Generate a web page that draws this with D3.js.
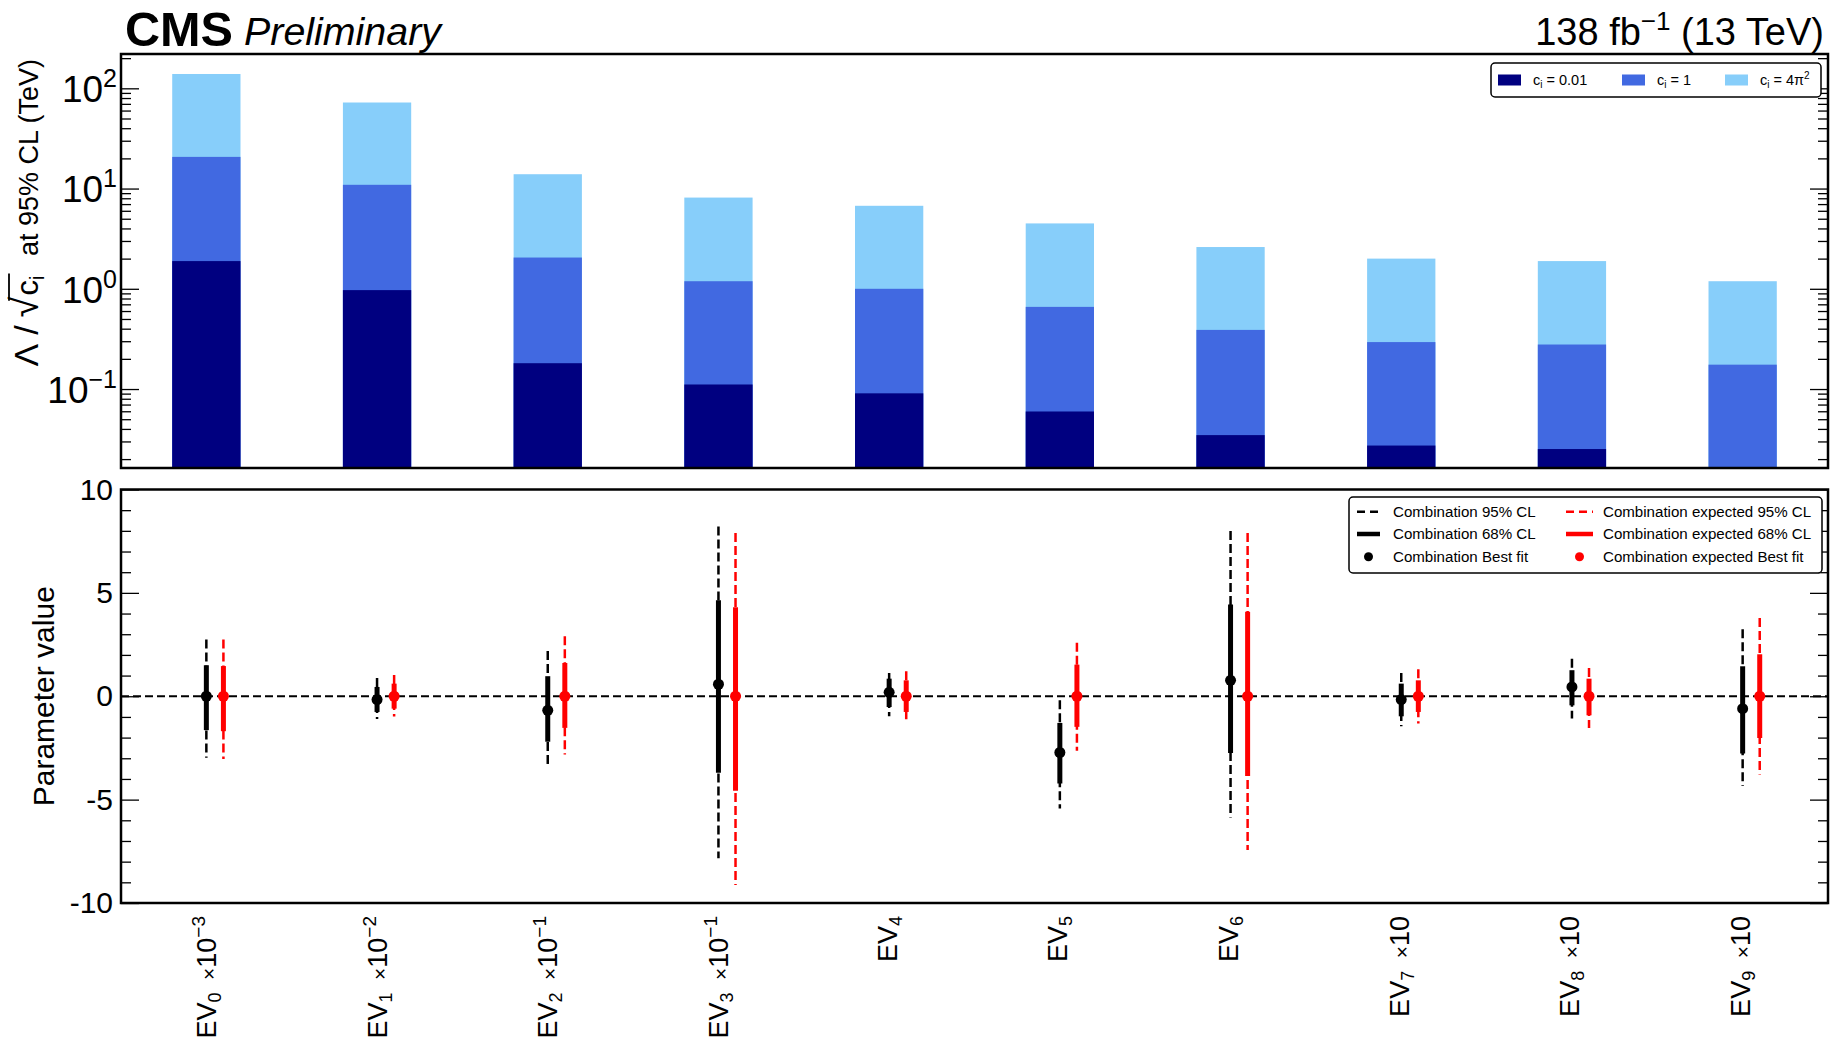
<!DOCTYPE html>
<html><head><meta charset="utf-8">
<script src="https://cdn.jsdelivr.net/npm/d3@7"></script>
<style>
body{margin:0;background:#fff}
text{font-family:"Liberation Sans",Arial,Helvetica,sans-serif;fill:#000}
</style>
</head><body>
<svg id="chart" width="1838" height="1062"></svg>
<script>
// ---------------- data ----------------
const categories = ["EV0","EV1","EV2","EV3","EV4","EV5","EV6","EV7","EV8","EV9"];
const labelIndex = ["0","1","2","3","4","5","6","7","8","9"];
const labelExp = [-3,-2,-1,-1,null,null,null,1,1,1];

// Lambda/sqrt(c_i) at 95% CL (TeV)
const limitC001 = [1.89, 0.97, 0.181, 0.111, 0.0906, 0.0597, 0.0347, 0.0273, 0.0252, 0.0159];
const limitC1   = [20.7, 10.9, 2.05, 1.19, 1.0, 0.66, 0.389, 0.294, 0.278, 0.175];
const limitC4pi2= [139, 72.2, 13.9, 8.13, 6.73, 4.49, 2.61, 2.0, 1.89, 1.19];

// parameter values (observed combination)
const obsBest = [0.0, -0.16, -0.68, 0.58, 0.19, -2.72, 0.77, -0.16, 0.45, -0.6];
const obs68Lo = [-1.64, -0.76, -2.2, -3.7, -0.52, -4.22, -2.74, -0.97, -0.44, -2.77];
const obs68Hi = [1.5, 0.45, 0.97, 4.64, 0.85, -1.29, 4.44, 0.61, 1.26, 1.45];
const obs95Lo = [-2.98, -1.1, -3.41, -7.84, -0.97, -5.43, -5.86, -1.45, -1.08, -4.34];
const obs95Hi = [2.74, 0.88, 2.19, 8.21, 1.13, -0.19, 7.99, 1.13, 1.81, 3.24];
// expected combination
const expBest = [0,0,0,0,0,0,0,0,0,0];
const exp68Lo = [-1.69, -0.6, -1.53, -4.57, -0.76, -1.48, -3.86, -0.76, -0.92, -2.02];
const exp68Hi = [1.46, 0.61, 1.61, 4.31, 0.77, 1.53, 4.09, 0.77, 0.85, 2.03];
const exp95Lo = [-3.03, -0.98, -2.82, -9.13, -1.19, -2.64, -7.44, -1.32, -1.53, -3.79];
const exp95Hi = [2.74, 1.03, 2.9, 7.89, 1.21, 2.59, 7.9, 1.31, 1.37, 3.79];

const topMajorTicks = [0.1, 1, 10, 100];
const topTickExp = ["−1","0","1","2"];
const bottomMajorTicks = [-10,-5,0,5,10];

// ---------------- layout ----------------
const svg = d3.select("#chart");
const L = 121, R = 1828;
const T1 = 54, B1 = 468;
const T2 = 489.5, B2 = 903;
const FONT = '"Liberation Sans",Arial,Helvetica,sans-serif';

const x = d3.scaleBand().domain(categories).range([L, R]).padding(0);
const cx = c => x(c) + x.bandwidth()/2;
const yTop = d3.scaleLog().domain([0.0163, 220]).range([B1, T1]);
const yBot = d3.scaleLinear().domain([-10, 10]).range([B2, T2]);

const colDark = "#000080", colMid = "#4169e1", colLight = "#87cefa";

// ---------------- header ----------------
svg.append("text").attr("x", 125).attr("y", 46).attr("font-size", 49).attr("font-weight", "bold")
  .attr("textLength", 108).attr("lengthAdjust", "spacingAndGlyphs").text("CMS");
svg.append("text").attr("x", 244).attr("y", 45).attr("font-size", 39).attr("font-style", "italic")
  .attr("textLength", 197).attr("lengthAdjust", "spacingAndGlyphs").text("Preliminary");
{
  const t = svg.append("text").attr("x", 1824).attr("y", 45).attr("font-size", 38).attr("text-anchor", "end");
  t.append("tspan").text("138 fb");
  t.append("tspan").attr("dy", -15).attr("font-size", 26).text("−1");
  t.append("tspan").attr("dy", 15).text(" (13 TeV)");
}

// ---------------- top panel ----------------
const clip = svg.append("defs").append("clipPath").attr("id", "clipTop");
clip.append("rect").attr("x", L).attr("y", T1).attr("width", R-L).attr("height", B1-T1);

const gBars = svg.append("g").attr("clip-path", "url(#clipTop)");
const barW = x.bandwidth()*0.4;
[[limitC4pi2, colLight], [limitC1, colMid], [limitC001, colDark]].forEach(([vals, col]) => {
  gBars.selectAll(null).data(categories).enter().append("rect")
    .attr("x", (c) => cx(c) - barW/2)
    .attr("width", barW)
    .attr("y", (c, i) => yTop(vals[i]))
    .attr("height", (c, i) => B1 - yTop(vals[i]))
    .attr("fill", col);
});

// top axes
const minorTop = [];
[0.01, 0.1, 1, 10, 100].forEach(d => { for (let k = 2; k <= 9; k++) { const v = k*d; if (v > 0.0163 && v < 220) minorTop.push(v); } });

function styleAxis(g) {
  g.select(".domain").remove();
  g.selectAll(".tick line").attr("stroke", "#000").attr("stroke-width", 1.3);
}
const axTopL = svg.append("g").attr("transform", `translate(${L},0)`)
  .call(d3.axisLeft(yTop).tickValues(topMajorTicks).tickSize(-18).tickPadding(7).tickFormat(() => "")).call(styleAxis);
svg.append("g").attr("transform", `translate(${L},0)`)
  .call(d3.axisLeft(yTop).tickValues(minorTop).tickSize(-10).tickFormat(() => "")).call(styleAxis);
svg.append("g").attr("transform", `translate(${R},0)`)
  .call(d3.axisRight(yTop).tickValues(topMajorTicks).tickSize(-18).tickFormat(() => "")).call(styleAxis);
svg.append("g").attr("transform", `translate(${R},0)`)
  .call(d3.axisRight(yTop).tickValues(minorTop).tickSize(-10).tickFormat(() => "")).call(styleAxis);

axTopL.selectAll(".tick").each(function(d, i) {
  const t = d3.select(this).select("text").attr("font-size", 37).attr("font-family", FONT)
    .attr("fill", "#000").attr("dy", "0.36em").attr("x", -4);
  t.text(null);
  t.append("tspan").text("10");
  t.append("tspan").attr("dy", -15).attr("font-size", 25).text(topTickExp[i]);
});

svg.append("rect").attr("x", L).attr("y", T1).attr("width", R-L).attr("height", B1-T1)
  .attr("fill", "none").attr("stroke", "#000").attr("stroke-width", 2.5);

// top y title
{
  const g = svg.append("g").attr("transform", `translate(38,59) rotate(-90)`);
  const t = g.append("text").attr("x", 0).attr("y", 0).attr("font-size", 27).attr("text-anchor", "end");
  t.append("tspan").attr("font-size", 34).text("Λ");
  t.append("tspan").attr("font-size", 34).attr("dx", 9).text("/");
  t.append("tspan").attr("font-size", 38).attr("dx", 8).text("√");
  t.append("tspan").attr("font-size", 31).attr("dx", 1).text("c");
  t.append("tspan").attr("dy", 6).attr("font-size", 20).text("i");
  t.append("tspan").attr("dy", -6).attr("dx", 12).text(" at 95% CL (TeV)");
  const n = t.node();
  const s0 = n.getStartPositionOfChar(2).x, s1 = n.getEndPositionOfChar(2).x;
  const e = n.getEndPositionOfChar(4).x + 2;
  g.append("line").attr("x1", s0 + (s1 - s0)*0.8).attr("x2", e).attr("y1", -29).attr("y2", -29)
    .attr("stroke", "#000").attr("stroke-width", 1.8);
}

// top legend
{
  const g = svg.append("g");
  g.append("rect").attr("x", 1491).attr("y", 63).attr("width", 330).attr("height", 34).attr("rx", 4)
    .attr("fill", "#fff").attr("stroke", "#000").attr("stroke-width", 1.5);
  const items = [[colDark, "0.01", 1498], [colMid, "1", 1622], [colLight, "4π", 1725]];
  items.forEach(([col, lab, xs], k) => {
    g.append("rect").attr("x", xs).attr("y", 74.5).attr("width", 23).attr("height", 11).attr("fill", col);
    const t = g.append("text").attr("x", xs + 35).attr("y", 85).attr("font-size", 14.5);
    t.append("tspan").text("c");
    t.append("tspan").attr("dy", 3).attr("font-size", 10).text("i");
    t.append("tspan").attr("dy", -3).text(" = " + lab);
    if (k === 2) t.append("tspan").attr("dy", -6).attr("font-size", 10).text("2");
  });
}

// ---------------- bottom panel ----------------
const minorBot = d3.range(-10, 11, 1).filter(v => v % 5 !== 0);
const axBotL = svg.append("g").attr("transform", `translate(${L},0)`)
  .call(d3.axisLeft(yBot).tickValues(bottomMajorTicks).tickSize(-18).tickPadding(8).tickFormat(d => d3.format("d")(d).replace("−","-"))).call(styleAxis);
axBotL.selectAll("text").attr("font-size", 30).attr("font-family", FONT).attr("fill", "#000").attr("x", -8);
svg.append("g").attr("transform", `translate(${L},0)`)
  .call(d3.axisLeft(yBot).tickValues(minorBot).tickSize(-10).tickFormat(() => "")).call(styleAxis);
svg.append("g").attr("transform", `translate(${R},0)`)
  .call(d3.axisRight(yBot).tickValues(bottomMajorTicks).tickSize(-18).tickFormat(() => "")).call(styleAxis);
svg.append("g").attr("transform", `translate(${R},0)`)
  .call(d3.axisRight(yBot).tickValues(minorBot).tickSize(-10).tickFormat(() => "")).call(styleAxis);

// zero line
svg.append("line").attr("x1", L).attr("x2", R).attr("y1", yBot(0)).attr("y2", yBot(0))
  .attr("stroke", "#000").attr("stroke-width", 2).attr("stroke-dasharray", "8,4");

function drawSeries(best, lo68, hi68, lo95, hi95, col, off) {
  const g = svg.append("g");
  g.selectAll(null).data(categories).enter().append("line")
    .attr("x1", c => cx(c) + off).attr("x2", c => cx(c) + off)
    .attr("y1", (c, i) => yBot(hi95[i])).attr("y2", (c, i) => yBot(lo95[i]))
    .attr("stroke", col).attr("stroke-width", 2.5).attr("stroke-dasharray", "9,4");
  g.selectAll(null).data(categories).enter().append("line")
    .attr("x1", c => cx(c) + off).attr("x2", c => cx(c) + off)
    .attr("y1", (c, i) => yBot(hi68[i])).attr("y2", (c, i) => yBot(lo68[i]))
    .attr("stroke", col).attr("stroke-width", 5);
  g.selectAll(null).data(categories).enter().append("circle")
    .attr("cx", c => cx(c) + off).attr("cy", (c, i) => yBot(best[i])).attr("r", 5.5).attr("fill", col);
}
drawSeries(obsBest, obs68Lo, obs68Hi, obs95Lo, obs95Hi, "#000", 0);
drawSeries(expBest, exp68Lo, exp68Hi, exp95Lo, exp95Hi, "#ff0000", x.bandwidth()*0.1);

svg.append("rect").attr("x", L).attr("y", T2).attr("width", R-L).attr("height", B2-T2)
  .attr("fill", "none").attr("stroke", "#000").attr("stroke-width", 2.5);

// bottom y title
svg.append("text").attr("transform", `translate(54,${yBot(0)}) rotate(-90)`).attr("text-anchor", "middle")
  .attr("font-size", 30).text("Parameter value");

// bottom legend
{
  const g = svg.append("g");
  g.append("rect").attr("x", 1349).attr("y", 497).attr("width", 473).attr("height", 76).attr("rx", 4)
    .attr("fill", "#fff").attr("stroke", "#000").attr("stroke-width", 1.5);
  const rows = [511.7, 534, 556.7];
  const cols = [[1357, 1380, 1393, "#000", "Combination "], [1566, 1593, 1603, "#ff0000", "Combination expected "]];
  const names = ["95% CL", "68% CL", "Best fit"];
  cols.forEach(([x1, x2, xt, col, pre]) => {
    g.append("line").attr("x1", x1).attr("x2", x2).attr("y1", rows[0]).attr("y2", rows[0])
      .attr("stroke", col).attr("stroke-width", 2.5).attr("stroke-dasharray", "8,5");
    g.append("line").attr("x1", x1).attr("x2", x2).attr("y1", rows[1]).attr("y2", rows[1])
      .attr("stroke", col).attr("stroke-width", 4.5);
    g.append("circle").attr("cx", (x1 + x2)/2).attr("cy", rows[2]).attr("r", 4.5).attr("fill", col);
    names.forEach((nm, k) => {
      g.append("text").attr("x", xt).attr("y", rows[k] + 5).attr("font-size", 15.1).text(pre + nm);
    });
  });
}

// x labels
categories.forEach((c, i) => {
  const g = svg.append("g");
  const t = g.append("text").attr("font-size", 27).attr("text-anchor", "start");
  t.append("tspan").text("EV");
  t.append("tspan").attr("dy", 5).attr("font-size", 18).text(labelIndex[i]);
  const ex = labelExp[i];
  if (ex !== null) {
    t.append("tspan").attr("dy", -5).attr("dx", 5).text(" ");
    t.append("tspan").attr("font-size", 21).text("×");
    t.append("tspan").text("10");
    if (ex !== 1) t.append("tspan").attr("dy", -11).attr("font-size", 19).text("−" + Math.abs(ex));
  }
  const bb = t.node().getBBox();
  // rotate -90: local (u,v) -> screen (v, -u)
  const hx0 = bb.y, hx1 = bb.y + bb.height;
  const vy0 = -(bb.x + bb.width);
  const tx = cx(c) - (hx0 + hx1)/2;
  const ty = 916 - vy0;
  g.attr("transform", `translate(${tx},${ty}) rotate(-90)`);
});
</script>
</body></html>
